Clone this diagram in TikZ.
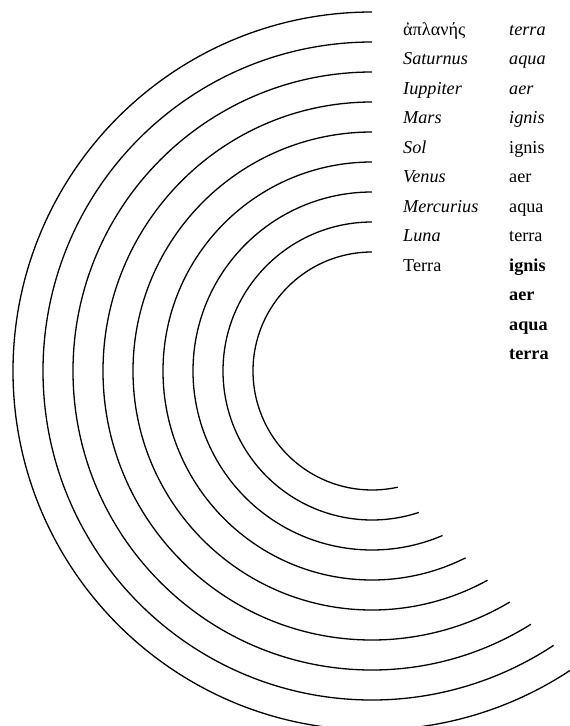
\documentclass[tikz,border=0pt]{standalone}
\usepackage{fontspec}
\setmainfont{Liberation Serif}
\usetikzlibrary{positioning}

\begin{document}
\begin{tikzpicture}[
    x=1pt, y=1pt,
    orbit/.style={line width=1.3pt, draw=black},
    word/.style={anchor=base west, inner sep=0pt, text=black,
        font=\fontsize{18.2}{22}\selectfont},
    planet/.style={word, font=\fontsize{18.2}{22}\selectfont\itshape},
    elem/.style={word},
    elemit/.style={word, font=\fontsize{18.2}{22}\selectfont\itshape},
    elembf/.style={word, font=\fontsize{18.2}{22}\selectfont\bfseries},
]
\useasboundingbox (0,0) rectangle (570,-726);
\clip (0,0) rectangle (570,-726);

\coordinate (ctr) at (372,-371);

% ---------------------------------------------------------------- orbits
\draw [orbit] ([shift={(90:359)}]ctr) arc[start angle=90, end angle=304.5, radius=359];
\draw [orbit] ([shift={(90:329)}]ctr) arc[start angle=90, end angle=303.5, radius=329];
\draw [orbit] ([shift={(90:299)}]ctr) arc[start angle=90, end angle=302.1, radius=299];
\draw [orbit] ([shift={(90:269)}]ctr) arc[start angle=90, end angle=300.8, radius=269];
\draw [orbit] ([shift={(90:239)}]ctr) arc[start angle=90, end angle=298.9, radius=239];
\draw [orbit] ([shift={(90:209)}]ctr) arc[start angle=90, end angle=296.6, radius=209];
\draw [orbit] ([shift={(90:179)}]ctr) arc[start angle=90, end angle=293.2, radius=179];
\draw [orbit] ([shift={(90:149)}]ctr) arc[start angle=90, end angle=288.3, radius=149];
\draw [orbit] ([shift={(90:119)}]ctr) arc[start angle=90, end angle=282.5, radius=119];

% ---------------------------------------------------------------- spheres
\node (aplanes)   [word]   at (403,-35)  {ἀπλανής};
\node (saturnus)  [planet] at (403,-64.5) {Saturnus};
\node (iuppiter)  [planet] at (403,-94)  {Iuppiter};
\node (mars)      [planet] at (403,-123.5) {Mars};
\node (sol)       [planet] at (403,-153) {Sol};
\node (venus)     [planet] at (403,-182.5) {Venus};
\node (mercurius) [planet] at (403,-212) {Mercurius};
\node (luna)      [planet] at (403,-241.5) {Luna};
\node (terra)     [word]   at (403,-271) {Terra};

% ---------------------------------------------------------------- elements
\node (terra1) [elemit] at (509,-35)    {terra};
\node (aqua1)  [elemit] at (509,-64.5)  {aqua};
\node (aer1)   [elemit] at (509,-94)    {aer};
\node (ignis1) [elemit] at (509,-123.5) {ignis};
\node (ignis2) [elem]   at (509,-153)   {ignis};
\node (aer2)   [elem]   at (509,-182.5) {aer};
\node (aqua2)  [elem]   at (509,-212)   {aqua};
\node (terra2) [elem]   at (509,-241.5) {terra};
\node (ignis3) [elembf] at (509,-271)   {ignis};
\node (aer3)   [elembf] at (509,-300.5) {aer};
\node (aqua3)  [elembf] at (509,-330)   {aqua};
\node (terra3) [elembf] at (509,-359.5) {terra};

\end{tikzpicture}
\end{document}
